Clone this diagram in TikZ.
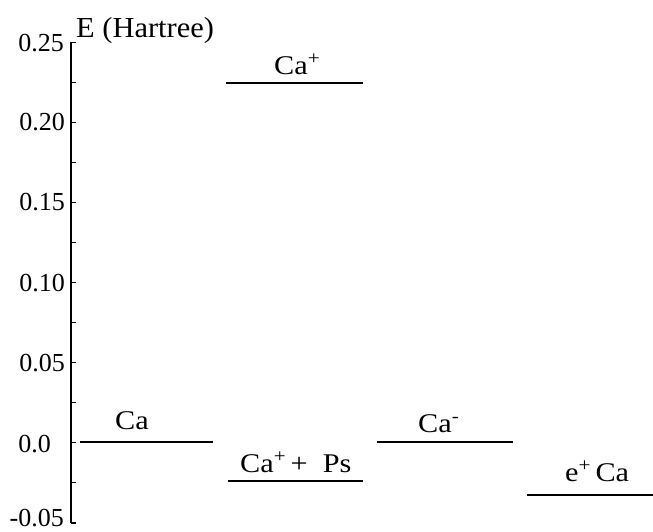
\documentclass[tikz,border=0pt]{standalone}
\usepackage{fontspec}
\setmainfont{Liberation Serif}
\newfontfamily\lblfont{Liberation Serif}[FakeStretch=1.12]
\newfontfamily\efont{Liberation Serif}[FakeStretch=1.05]
\begin{document}
\begin{tikzpicture}[x=1pt,y=-1pt,
  lvl/.style={line width=1.7pt},
  axisline/.style={line width=1.7pt},
  tickmark/.style={line width=0.6pt},
  ticklab/.style={anchor=east,inner sep=0pt,font=\fontsize{26}{26}\selectfont},
  lvllab/.style={anchor=base west,inner sep=0pt,font=\lblfont\fontsize{27}{27}\selectfont}]
\useasboundingbox (0,0) rectangle (653,531);
% axis
\coordinate (atop) at (71,42);
\coordinate (abot) at (71,523);
\draw[axisline] (atop) -- (abot);
\foreach \yy in {42,82,122,162,202,242,282,322,362,402,442,482,522}
  \draw[tickmark] (71,\yy) -- (76,\yy);
\draw[tickmark] (atop) -- (76,42);
\draw[tickmark] (abot) -- (76,523);
% tick labels
\node[ticklab] (t25) at (64,43) {0.25};
\node[ticklab] (t20) at (65,122) {0.20};
\node[ticklab] (t15) at (65,202) {0.15};
\node[ticklab] (t10) at (65,283) {0.10};
\node[ticklab] (t05) at (65,363) {0.05};
\node[ticklab] (t00) at (51,444) {0.0};
\node[ticklab] (tm05) at (64,518) {-0.05};
\node[anchor=base west,inner sep=0pt,font=\efont\fontsize{29}{29}\selectfont] (elab) at (76,37) {E (Hartree)};
% levels
\coordinate (caL) at (80,442); \coordinate (caR) at (213,442);
\draw[lvl] (caL) -- (caR);
\coordinate (cpL) at (226,83); \coordinate (cpR) at (363,83);
\draw[lvl] (cpL) -- (cpR);
\coordinate (cpsL) at (228,481); \coordinate (cpsR) at (363,481);
\draw[lvl] (cpsL) -- (cpsR);
\coordinate (cmL) at (377,442); \coordinate (cmR) at (513,442);
\draw[lvl] (cmL) -- (cmR);
\coordinate (ecL) at (527,495); \coordinate (ecR) at (653,495);
\draw[lvl] (ecL) -- (ecR);
% level labels
\node[lvllab] (lca) at (115,429) {Ca};
\node[lvllab] (lcp) at (274,74) {Ca\textsuperscript{+}};
\node[lvllab] (lcps) at (240,472) {Ca\textsuperscript{+}\,+\ \ Ps};
\node[lvllab] (lcm) at (418,432) {Ca\textsuperscript{-}};
\node[lvllab] (lec) at (565,481) {e\textsuperscript{+}\,Ca};
\end{tikzpicture}
\end{document}
